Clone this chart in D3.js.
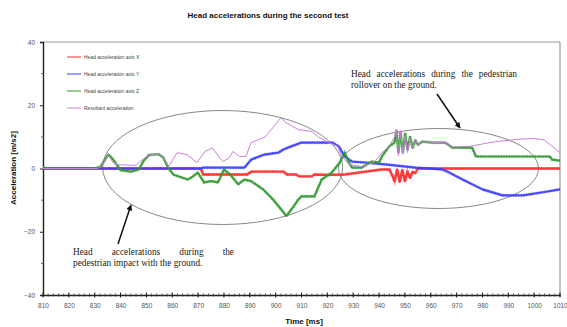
<!DOCTYPE html>
<html><head><meta charset="utf-8">
<script src="https://cdn.jsdelivr.net/npm/d3@7"></script>
<style>
html,body{margin:0;padding:0;background:#fff;}
svg{display:block;}
</style>
</head><body>
<svg id="c" width="567" height="327"></svg>
<script>
// ---- data ----
const chartTitle = "Head accelerations during the second test";
const xTitle = "Time [ms]";
const yTitle = "Acceleration [m/s2]";
const xTickValues = [810,820,830,840,850,860,870,880,890,900,910,920,930,940,950,960,970,980,990,1000,1010];
const yTickValues = [-40,-20,0,20,40];
const seriesNames = ["Head acceleration axis X","Head acceleration axis Y","Head acceleration axis Z","Resultant acceleration"];

const tX = [810,871,872,889,890.5,903,904.5,908,909,914,915,921,926.7,932,941,944,945,946,947,948,949,950,951,952,953,954,955,1010];
const vX = [0,0,-1.9,-1.9,-1,-1,-1.9,-1.9,-2.5,-2.5,-1.9,-2,-1.9,-1.3,-0.3,-0.3,-2,-4,-0.3,-4.2,-0.5,-4,-1,-3,-1,-1.5,0,0];

const tY = [810,871,872,888,890.5,895.6,901,903,906,910,918,922,924.4,926.7,929.5,934.5,942.3,954,964.5,967.2,972.3,980,987.8,995.6,1003.4,1010];
const vY = [0,0,0.3,0.3,2.8,4.4,5,6,7,8.2,8.2,8.2,7,3.8,2.2,1.9,1.3,0.3,-0.3,-1.3,-3.5,-6.6,-8.5,-8.5,-7.5,-6.6];

const tZ = [810,812,830,832.2,835.3,837,840,844,847,849,851,854.7,856.5,858.6,860.6,866,868,869.9,872.3,875,877.7,880,882.5,885.5,887.8,890.5,895,899,904.2,906.5,908.8,910,915,917.8,921.7,924.8,926.7,928.3,929.5,933.3,937.2,940,941.1,943.9,946,946.7,947.5,948.3,949.2,950.1,951,952,953,954,955,956.7,960.6,965.6,968.4,976,977.5,1006,1007,1010];
const vZ = [0.3,0,0,0.5,4.4,3,-0.5,-1,-0.3,2.5,4.3,4.5,3.5,0,-2,-3.5,-2.5,-1.3,-4.4,-4,-4.4,-0.3,-2,-5,-3.5,-4,-6.5,-9.8,-15,-12.5,-9.8,-8.8,-8.8,-3.5,-1.3,1.9,5,2,0.3,0.3,2.2,1.9,3.8,7,8.2,12,5,11.5,5,11,6,10,6.5,9,7.5,8.5,8.2,8.2,6.6,6.6,3.8,3.8,2.8,2.5];

const tR = [810,831,832.2,835.3,837,839,846,848,851,854.7,856.5,858.6,861.9,865.7,869.6,872.7,875.5,879.5,882,883.5,886,888.5,890.5,893,896,899,902,904,908.8,914,916.5,920.5,924,925.6,928.3,933.3,936,938.4,941.1,943.9,946,946.7,947.5,948.3,949.2,950.1,951,952,953,954,955,956.7,960.6,965.6,968.4,975,985,995,1000,1004,1007,1010];
const vR = [0,0,0.5,4.2,2,1.2,1,2.5,4.3,4.6,3.5,0.6,5,4.4,1.9,5.4,6.5,2.2,3.3,5.4,3.8,3.8,8.2,9,10,13,16,14.5,12.3,11.7,10,8.2,7,3.8,1.3,0.6,1.3,2.2,5,7,10,12.3,4,12,4.5,10.5,5,9.5,6.5,9,7.5,8.5,8.2,8.2,6.8,7,8.5,9.3,9.5,9,7,5];

const noteRight = ["Head accelerations during the pedestrian","rollover on the ground."];
const noteLeft = ["Head accelerations during the","pedestrian impact with the ground."];

// ---- layout ----
const svg = d3.select("#c");
const L = 43, R = 560, T = 42, B = 295;
const x = d3.scaleLinear().domain([810,1010]).range([L,R]);
const y = d3.scaleLinear().domain([-40,40]).range([B,T]);

// title
svg.append("text").attr("x",268).attr("y",18).attr("text-anchor","middle")
  .attr("font-family","Liberation Sans, Arial, sans-serif").attr("font-size",8).attr("font-weight","bold")
  .attr("fill","#111").text(chartTitle);

// frame (top & right)
svg.append("line").attr("x1",L).attr("x2",R).attr("y1",T).attr("y2",T).attr("stroke","#999").attr("stroke-width",1.2);
svg.append("line").attr("x1",R).attr("x2",R).attr("y1",T).attr("y2",B).attr("stroke","#999").attr("stroke-width",1.2);

// axes
const fontAx = "Liberation Sans, Arial, sans-serif";
const xAxis = d3.axisBottom(x).tickValues(xTickValues).tickSize(0).tickPadding(8).tickFormat(d3.format("d"));
const gx = svg.append("g").attr("transform",`translate(0,${B})`).call(xAxis);
gx.select(".domain").attr("stroke","#222").attr("stroke-width",1.4);
gx.selectAll("text").attr("font-family",fontAx).attr("font-size",6.5).attr("fill","#555");
const xMinor = d3.range(810,1011,2);
svg.append("g").selectAll("line").data(xMinor).join("line")
  .attr("x1",d=>x(d)).attr("x2",d=>x(d)).attr("y1",B-1.5).attr("y2",B+1.5)
  .attr("stroke","#333").attr("stroke-width",0.8);
svg.append("g").selectAll("line").data(xTickValues).join("line")
  .attr("x1",d=>x(d)).attr("x2",d=>x(d)).attr("y1",B-2.5).attr("y2",B+2.5)
  .attr("stroke","#222").attr("stroke-width",1);

const yAxis = d3.axisLeft(y).tickValues(yTickValues).tickSize(3).tickPadding(5);
const gy = svg.append("g").attr("transform",`translate(${L},0)`).call(yAxis);
gy.select(".domain").attr("stroke","#222").attr("stroke-width",1.4);
gy.selectAll(".tick line").attr("stroke","#222");
gy.selectAll("text").attr("font-family",fontAx).attr("font-size",6.5).attr("fill","#555");
svg.append("g").selectAll("line").data(d3.range(-30,31,20)).join("line")
  .attr("x1",L-2).attr("x2",L+1).attr("y1",d=>y(d)).attr("y2",d=>y(d))
  .attr("stroke","#444").attr("stroke-width",0.8);

// axis titles
svg.append("text").attr("x",304).attr("y",324).attr("text-anchor","middle")
  .attr("font-family",fontAx).attr("font-size",8).attr("font-weight","bold").attr("fill","#111").text(xTitle);
svg.append("text").attr("transform","translate(16,168) rotate(-90)").attr("text-anchor","middle")
  .attr("font-family",fontAx).attr("font-size",8).attr("font-weight","bold").attr("fill","#111").text(yTitle);

// ellipses
svg.append("ellipse").attr("cx",x(879.5)).attr("cy",y(0)-1).attr("rx",120).attr("ry",57)
  .attr("fill","none").attr("stroke","#888").attr("stroke-width",1);
svg.append("ellipse").attr("cx",x(963)).attr("cy",y(0)).attr("rx",100).attr("ry",40)
  .attr("fill","none").attr("stroke","#888").attr("stroke-width",1);

// series
const colors = ["#ff2a2a","#3c3cff","#2f9a2f","#cc80dd"];
const widths = [2.4,2.2,2.2,1];
const series = [[tX,vX],[tY,vY],[tZ,vZ],[tR,vR]];
const line = d3.line().x(d=>x(d[0])).y(d=>y(d[1]));
series.forEach((s,i)=>{
  const pts = s[0].map((t,j)=>[t,s[1][j]]);
  svg.append("path").datum(pts).attr("d",line).attr("fill","none")
    .attr("stroke",colors[i]).attr("stroke-width",widths[i]).attr("stroke-linejoin","round")
    .attr("opacity", i===3?1:0.9);
  if(i<3){
    svg.append("path").datum(pts).attr("d",line).attr("fill","none")
      .attr("stroke",colors[i]).attr("stroke-width",3.2).attr("stroke-dasharray","1.2 1.4")
      .attr("opacity",0.45);
  }
});

// legend
const lg = svg.append("g");
seriesNames.forEach((n,i)=>{
  const yy = 57 + i*17;
  lg.append("line").attr("x1",67).attr("x2",81).attr("y1",yy).attr("y2",yy)
    .attr("stroke",colors[i]).attr("stroke-width",1);
  lg.append("text").attr("x",84).attr("y",yy+1.8).attr("font-family",fontAx)
    .attr("font-size",5).attr("fill","#444").text(n);
});

// annotations (justified first lines)
const serif = "Liberation Serif, Times New Roman, serif";
function justified(words, x0, x1, yy){
  const g = svg.append("g");
  const els = words.map(w=>g.append("text").attr("y",yy).attr("font-family",serif)
    .attr("font-size",9.3).attr("fill","#222").text(w));
  const ws = els.map(e=>e.node().getComputedTextLength());
  const total = d3.sum(ws);
  const gap = (x1-x0-total)/(words.length-1);
  let cx = x0;
  els.forEach((e,i)=>{ e.attr("x",cx); cx += ws[i]+gap; });
}
function plain(txt,x0,yy){
  svg.append("text").attr("x",x0).attr("y",yy).attr("font-family",serif)
    .attr("font-size",9.3).attr("fill","#222").text(txt);
}
justified(noteRight[0].split(" "),351,517,77);
plain(noteRight[1],351,88);
justified(noteLeft[0].split(" "),73,234,255);
plain(noteLeft[1],73,266);

// arrows
const defs = svg.append("defs");
defs.append("marker").attr("id","ah").attr("viewBox","0 0 10 10").attr("refX",9).attr("refY",5)
  .attr("markerWidth",4).attr("markerHeight",4).attr("orient","auto")
  .append("path").attr("d","M0,0 L10,5 L0,10 z").attr("fill","#111");
svg.append("line").attr("x1",437).attr("y1",94).attr("x2",460).attr("y2",128)
  .attr("stroke","#111").attr("stroke-width",1.5).attr("marker-end","url(#ah)");
svg.append("line").attr("x1",118).attr("y1",244).attr("x2",131).attr("y2",205)
  .attr("stroke","#111").attr("stroke-width",1.5).attr("marker-end","url(#ah)");
</script>
</body></html>
